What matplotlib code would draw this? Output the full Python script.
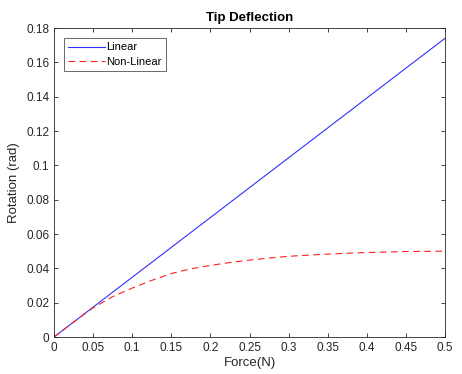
import matplotlib
matplotlib.use("Agg")
import matplotlib.pyplot as plt
import numpy as np

# --- data -----------------------------------------------------------------
force = [0.0, 0.5]
rot_linear = [0.0, 0.174]

force_nl = [0.0, 0.025, 0.05, 0.075, 0.1, 0.125, 0.15, 0.175, 0.2, 0.225, 0.25,
            0.275, 0.3, 0.325, 0.35, 0.375, 0.4, 0.425, 0.45, 0.475, 0.5]
rot_nonlinear = [0.0, 0.0087, 0.017, 0.0235, 0.0285, 0.033, 0.037, 0.0397, 0.0417,
                 0.0434, 0.0448, 0.046, 0.047, 0.0477, 0.0483, 0.0488, 0.0492,
                 0.0495, 0.0498, 0.0499, 0.050]

xticks = np.arange(0, 0.51, 0.05)
yticks = np.arange(0, 0.181, 0.02)

plt.rcParams["font.family"] = ["Liberation Sans", "DejaVu Sans"]

fig = plt.figure(figsize=(4.62, 3.74), dpi=100)
ax = fig.add_axes([0.1169, 0.0989, 0.8463, 0.8262])

ax.plot(force, rot_linear, color="#3030ff", lw=0.8, label="Linear")
ax.plot(force_nl, rot_nonlinear, color="#ff2020", lw=0.8, ls=(0, (6, 4)),
        label="Non-Linear")

ax.set_xlim(0, 0.5)
ax.set_ylim(0, 0.18)
ax.set_xticks(xticks)
ax.set_xticklabels([f"{t:g}" for t in np.round(xticks, 2)])
ax.set_yticks(yticks)
ax.set_yticklabels([f"{t:g}" for t in np.round(yticks, 2)])
ax.tick_params(direction="in", top=True, right=True, length=3, width=0.6,
               labelsize=8.5, colors="0.15", labelcolor="0.15")
for s in ax.spines.values():
    s.set_linewidth(0.6)
    s.set_color("0.15")

ax.set_xlabel("Force(N)", fontsize=9.5, color="0.15", labelpad=2)
ax.set_ylabel("Rotation (rad)", fontsize=9.5, color="0.15", labelpad=4)
ax.set_title("Tip Deflection", fontsize=9.5, fontweight="bold", pad=5)

leg = ax.legend(loc="upper left", fontsize=8, frameon=True, fancybox=False,
                edgecolor="0.15", borderpad=0.4, handlelength=3.3,
                handletextpad=0.1, labelspacing=0.4, borderaxespad=0.9)
leg.get_frame().set_linewidth(0.6)

fig.savefig("out.png", dpi=100)
